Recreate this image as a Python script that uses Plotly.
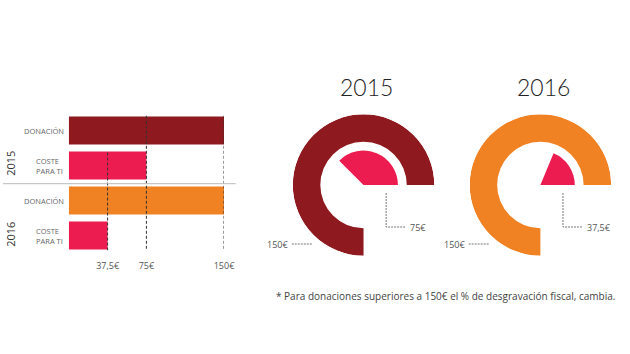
import plotly.graph_objects as go

W, H = 630, 354
def px(x): return x / W
def py(y): return 1 - y / H

# ---- data ----
years = ["2015", "2016"]
categories = ["DONACIÓN", "COSTE<br>PARA TI"]
donacion = [150, 150]
coste = [75, 37.5]
tick_vals = [37.5, 75, 150]
tick_text = ["37,5€", "75€", "150€"]
gauge_labels = ["75€", "37,5€"]
max_value = 150
footnote = "* Para donaciones superiores a 150€ el % de desgravación fiscal, cambia."

DARK_RED = "#8E191E"
PINK = "#EC1C51"
ORANGE = "#F18224"
don_colors = [DARK_RED, ORANGE]
FONT = "Open Sans"

fig = go.Figure()

# ---- left bar chart ----
rows_y, rows_x, rows_c = [], [], []
for i in range(2):
    rows_y += [2 * i, 2 * i + 1]
    rows_x += [donacion[i], coste[i]]
    rows_c += [don_colors[i], PINK]
fig.add_trace(go.Bar(x=rows_x, y=rows_y, orientation="h", marker_color=rows_c,
                     marker_line_width=0, width=0.8, showlegend=False,
                     xaxis="x", yaxis="y", hoverinfo="skip"))

fig.update_layout(
    xaxis=dict(domain=[px(70), px(228)], range=[0, 150], showgrid=False, zeroline=False,
               showline=False, tickvals=tick_vals, ticktext=tick_text, ticks="outside",
               ticklen=4, tickcolor="rgba(0,0,0,0)", tickfont=dict(size=9, color="#555"),
               anchor="y"),
    yaxis=dict(domain=[py(253), py(113)], range=[3.5, -0.5], showgrid=False, zeroline=False,
               showline=False, showticklabels=False, anchor="x"),
)

shapes = []
# dashed reference lines
starts = {37.5: 0.63, 75: -0.42, 150: -0.42}
for v in tick_vals:
    shapes.append(dict(type="line", xref="x", yref="y", x0=v, x1=v, y0=starts[v], y1=3.42,
                       line=dict(color="#333", width=1, dash="3px,2px"), layer="above"))
# separator
shapes.append(dict(type="line", xref="paper", yref="y", x0=px(3), x1=px(240), y0=1.52, y1=1.52,
                   line=dict(color="#bbb", width=1)))

annotations = []
for i in range(2):
    annotations.append(dict(text=categories[0], xref="paper", yref="y", x=px(67), y=2 * i,
                            xanchor="right", yanchor="middle", showarrow=False,
                            font=dict(size=7.5, color="#666")))
    annotations.append(dict(text=categories[1], xref="paper", yref="y", x=px(35), y=2 * i + 1,
                            xanchor="left", yanchor="middle", align="left", showarrow=False,
                            font=dict(size=7.5, color="#666")))
year_label_y = [163, 234]
for i, yr in enumerate(years):
    annotations.append(dict(text=yr, xref="paper", yref="paper", x=px(10), y=py(year_label_y[i]),
                            textangle=-90, showarrow=False, xanchor="center", yanchor="middle",
                            font=dict(size=11, color="#333")))

# ---- gauges ----
centers_x = [370, 550]
cy = 185
R_OUT, R_IN, R_WEDGE = 72, 44, 35
deg = 270 / max_value
for i, yr in enumerate(years):
    pid = "polar" if i == 0 else "polar2"
    fig.add_trace(go.Barpolar(r=[R_OUT - R_IN], base=[R_IN], theta=[donacion[i] * deg / 2],
                              width=[donacion[i] * deg], marker_color=don_colors[i],
                              marker_line_width=0, subplot=pid, showlegend=False,
                              hoverinfo="skip"))
    fig.add_trace(go.Barpolar(r=[R_WEDGE], base=[0], theta=[coste[i] * deg / 2],
                              width=[coste[i] * deg], marker_color=PINK,
                              marker_line_width=0, subplot=pid, showlegend=False,
                              hoverinfo="skip"))
    cx = centers_x[i]
    fig.layout[pid] = dict(
        domain=dict(x=[px(cx - R_OUT), px(cx + R_OUT)], y=[py(cy + R_OUT), py(cy - R_OUT)]),
        bgcolor="rgba(0,0,0,0)",
        radialaxis=dict(visible=False, range=[0, R_OUT]),
        angularaxis=dict(visible=False, rotation=0, direction="counterclockwise"),
    )
    # title
    annotations.append(dict(text=yr, xref="paper", yref="paper", x=px(cx + 3), y=py(87),
                            showarrow=False, xanchor="center", yanchor="middle",
                            font=dict(size=23, color="#222", family="Lato", weight=300)))
    # leader for wedge
    lx = cx + 23
    shapes.append(dict(type="path", xref="paper", yref="paper",
                       path=f"M {px(lx)},{py(193)} L {px(lx)},{py(227)} L {px(lx + 20)},{py(227)}",
                       line=dict(color="#777", width=1, dash="2px,1px")))
    annotations.append(dict(text=gauge_labels[i], xref="paper", yref="paper", x=px(lx + 22),
                            y=py(228), xanchor="left", yanchor="middle", showarrow=False,
                            font=dict(size=9, color="#555")))
    # 150 label
    shapes.append(dict(type="line", xref="paper", yref="paper", x0=px(cx - 73), x1=px(cx - 52),
                       y0=py(244), y1=py(244), line=dict(color="#777", width=1, dash="2px,1px")))
    annotations.append(dict(text="150€", xref="paper", yref="paper", x=px(cx - 75), y=py(244),
                            xanchor="right", yanchor="middle", showarrow=False,
                            font=dict(size=9, color="#555")))

annotations.append(dict(text=footnote, xref="paper", yref="paper", x=px(628), y=py(296),
                        xanchor="right", yanchor="middle", showarrow=False,
                        font=dict(size=10, color="#444")))

fig.update_layout(width=W, height=H, margin=dict(l=0, r=0, t=0, b=0), autosize=False,
                  paper_bgcolor="white", plot_bgcolor="rgba(0,0,0,0)",
                  font=dict(family=FONT), shapes=shapes, annotations=annotations,
                  barmode="overlay")

# hide invisible helper elements of the polar subplots that stick out past the page edge
post = r"""
var gd = document.getElementById('{plot_id}');
var box = gd.getBoundingClientRect();
var els = gd.querySelectorAll('*');
for (var i = 0; i < els.length; i++) {
  var el = els[i];
  if (el.children && el.children.length) continue;
  var r = el.getBoundingClientRect();
  if (r.width > 0 && (r.right - box.left > 631 || r.bottom - box.top > 355)) {
    el.style.display = 'none';
  }
}
document.body.style.margin = '0';
"""
fig.write_html("out.html", config={"staticPlot": True}, post_script=post)
